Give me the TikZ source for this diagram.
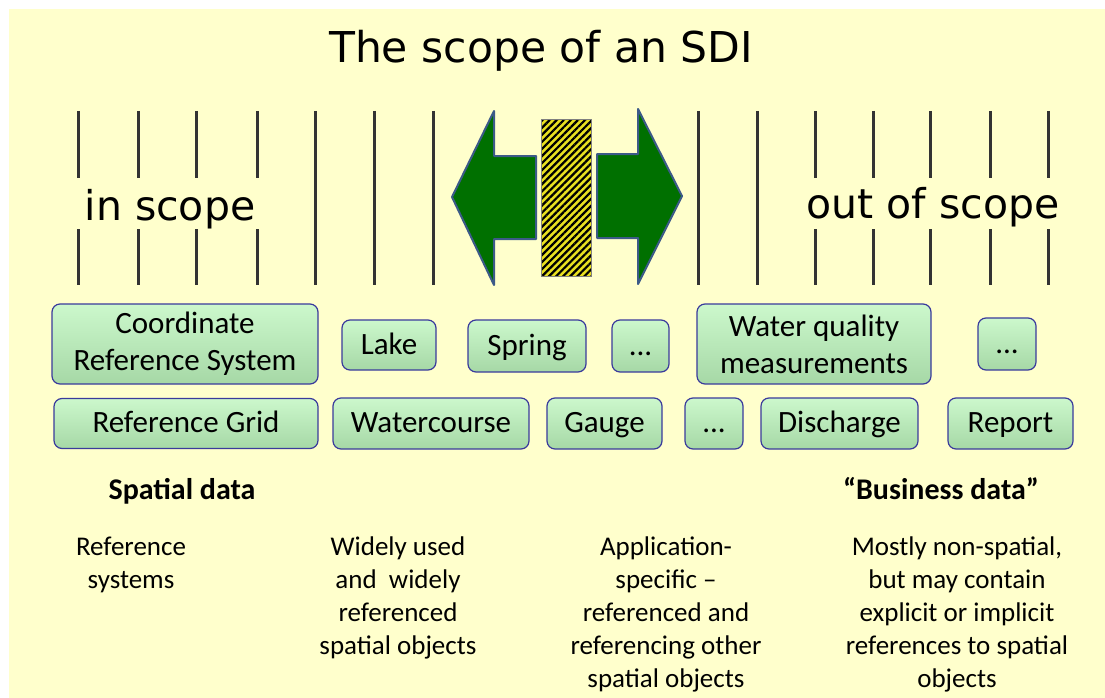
\documentclass[tikz,border=0pt]{standalone}
\usepackage{fontspec}
\setmainfont{Carlito}
\newfontfamily\verdanafont{DejaVu Sans}
\usetikzlibrary{patterns.meta}
\definecolor{slidebg}{HTML}{FFFFCC}
\definecolor{boxtop}{HTML}{CCF8CC}
\definecolor{boxbottom}{HTML}{A6D8A6}
\definecolor{boxline}{HTML}{3A3A9C}
\definecolor{arrowgreen}{HTML}{007000}
\definecolor{arrowline}{HTML}{3C5A88}
\definecolor{tickgray}{HTML}{333333}
\definecolor{hatchyellow}{HTML}{E8E020}

\begin{document}
\begin{tikzpicture}[x=1pt, y=-1pt,
	box/.style={draw=boxline, line width=1.2pt, rounded corners=8pt, top color=boxtop, bottom color=boxbottom, font=\fontsize{31}{37}\selectfont, align=center, inner sep=0pt},
	onebox/.style={box, text height=24pt, text depth=6pt},
	tick/.style={draw=tickgray, line width=3pt},
	desc/.style={font=\fontsize{27}{33}\selectfont, align=center, anchor=base},
	head/.style={font=\bfseries\fontsize{30}{33}\selectfont, anchor=base},
	big/.style={font=\verdanafont\fontsize{41}{48}\selectfont, anchor=base}]
	\useasboundingbox (0,0) rectangle (1105,698);
	\fill[white] (0,0) rectangle (1105,698);
	\fill[slidebg] (9,9) rectangle (1105,698);
	\node[big, font=\verdanafont\fontsize{42.5}{48}\selectfont] (title) at (541,63) {The scope of an SDI};
	\node[big] (inscope) at (170,220) {in scope};
	\node[big] (outscope) at (933,218) {out of scope};
	\foreach \x in {78,138,196,257,815,873,930,990,1048} {
		\draw[tick] (\x,111) -- (\x,178);
		\draw[tick] (\x,229) -- (\x,285);
	}
	\foreach \x in {315,374,433,698,757}
		\draw[tick] (\x,111) -- (\x,285);
	\draw[fill=arrowgreen, draw=arrowline, line width=2pt, line join=round] (452,197) -- (494,111) -- (494,156) -- (536,156) -- (536,239) -- (494,239) -- (494,285) -- cycle;
	\draw[fill=arrowgreen, draw=arrowline, line width=2pt, line join=round] (682,196) -- (638,109) -- (638,154) -- (597,154) -- (597,238) -- (638,238) -- (638,284) -- cycle;
	\fill[hatchyellow] (541,120) rectangle (591,276);
	\fill[pattern={Lines[angle=45, distance=5pt, line width=2.2pt]}, pattern color=black] (541,120) rectangle (591,276);
	\draw[gray, line width=1pt] (541,120) rectangle (591,276);
	\node[box, minimum width=266pt, minimum height=80pt] (crs) at (185,344) {Coordinate\\Reference System};
	\node[onebox, minimum width=94pt, minimum height=50pt] (lake) at (389,345) {Lake};
	\node[onebox, minimum width=118pt, minimum height=52pt] (spring) at (527,346) {Spring};
	\node[onebox, minimum width=57pt, minimum height=52pt] (more1) at (640.5,346) {...};
	\node[box, minimum width=234pt, minimum height=80pt] (quality) at (814,344) {Water quality\\measurements};
	\node[onebox, minimum width=58pt, minimum height=52pt] (more2) at (1007,344) {...};
	\node[onebox, minimum width=264pt, minimum height=50pt] (grid) at (186,423.5) {Reference Grid};
	\node[onebox, minimum width=196pt, minimum height=51pt] (watercourse) at (431,423.5) {Watercourse};
	\node[onebox, minimum width=115pt, minimum height=51pt] (gauge) at (604.5,423.5) {Gauge};
	\node[onebox, minimum width=58pt, minimum height=51pt] (more3) at (714,423.5) {...};
	\node[onebox, minimum width=157pt, minimum height=51pt] (discharge) at (839.5,423.5) {Discharge};
	\node[onebox, minimum width=125pt, minimum height=51pt] (report) at (1010.5,423.5) {Report};
	\node[head] (spatial) at (182,499) {Spatial data};
	\node[head] (business) at (941,499) {“Business data”};
	\node[desc] (refsys) at (131,588) {Reference\\systems};
	\node[desc] (widely) at (398,654) {Widely used\\and~ widely\\referenced\\spatial objects};
	\node[desc] (appspec) at (666,687) {Application-\\specific --\\referenced and\\referencing other\\spatial objects};
	\node[desc] (mostly) at (957,687) {Mostly non-spatial,\\but may contain\\explicit or implicit\\references to spatial\\objects};
\end{tikzpicture}
\end{document}
